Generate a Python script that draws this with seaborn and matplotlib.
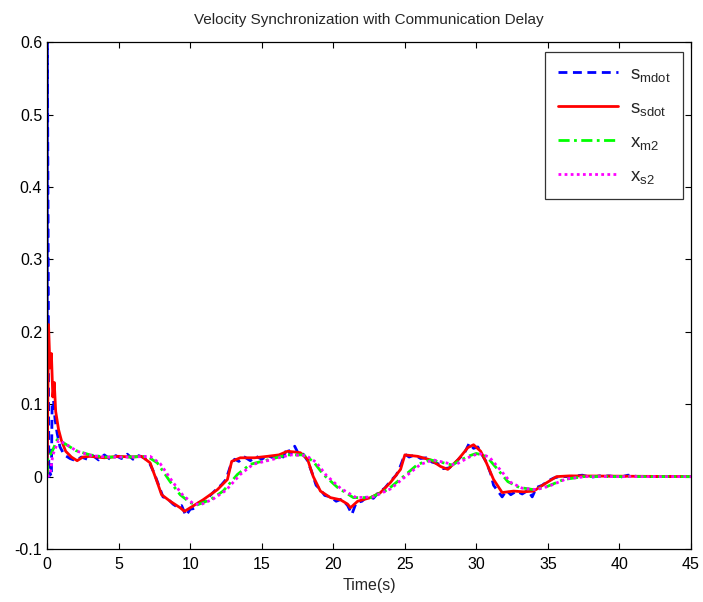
import matplotlib as mpl
mpl.use('Agg')
import matplotlib.pyplot as plt
import numpy as np
import pandas as pd
import seaborn as sns

# s_mdot (blue, noisy)
blue_t = [0.0, 0.02, 0.08, 0.12, 0.2, 0.3, 0.35, 0.45, 0.55, 0.7, 0.9, 1.2, 1.6, 2.0, 2.4,
          2.8, 3.2, 3.6, 4.0, 4.4, 4.8, 5.2, 5.6, 6.0, 6.4, 6.8, 7.2, 7.5, 7.8, 8.1,
          8.4, 8.8, 9.1, 9.4, 9.7, 10.0, 10.3, 10.6, 11.0, 11.4, 11.8, 12.2, 12.5, 12.8, 13.1,
          13.4, 13.8, 14.2, 14.6, 15.0, 15.4, 15.8, 16.2, 16.5, 16.8, 17.0, 17.3, 17.6, 17.9, 18.2,
          18.5, 18.8, 19.1, 19.4, 19.8, 20.2, 20.6, 21.0, 21.3, 21.6, 22.0, 22.4, 22.8, 23.2, 23.6,
          24.0, 24.4, 24.7, 25.0, 25.3, 25.7, 26.1, 26.5, 26.9, 27.3, 27.7, 28.1, 28.5, 28.9, 29.2,
          29.5, 29.8, 30.1, 30.4, 30.7, 31.0, 31.2, 31.5, 31.8, 32.1, 32.4, 32.8, 33.2, 33.6, 33.9,
          34.2, 34.6, 35.0, 35.4, 35.8, 36.5, 37.4, 38.0, 38.6, 39.3, 40.0, 40.6, 41.3, 42.0, 45.0]
blue_v = [0.0, 0.6, 0.3, 0.0, 0.005, 0.0, 0.10, 0.105, 0.08, 0.06, 0.041, 0.030, 0.025, 0.022, 0.027,
          0.024, 0.029, 0.023, 0.030, 0.024, 0.029, 0.025, 0.031, 0.024, 0.029, 0.026, 0.017, 0.004, -0.012, -0.028,
          -0.030, -0.038, -0.042, -0.040, -0.054, -0.045, -0.044, -0.036, -0.033, -0.026, -0.018, -0.011, -0.004, 0.014, 0.024,
          0.021, 0.027, 0.022, 0.028, 0.024, 0.029, 0.026, 0.031, 0.027, 0.040, 0.030, 0.042, 0.030, 0.031, 0.022,
          0.006, -0.012, -0.018, -0.026, -0.028, -0.034, -0.031, -0.040, -0.052, -0.036, -0.034, -0.027, -0.030, -0.021, -0.016,
          -0.006, 0.002, 0.015, 0.031, 0.027, 0.030, 0.025, 0.026, 0.020, 0.018, 0.011, 0.012, 0.019, 0.027, 0.034,
          0.046, 0.039, 0.041, 0.030, 0.020, 0.004, -0.012, -0.020, -0.028, -0.019, -0.025, -0.020, -0.024, -0.019, -0.028,
          -0.015, -0.012, -0.006, -0.002, 0.0, 0.0, 0.002, -0.001, 0.001, 0.001, -0.001, 0.002, 0.0, 0.0, 0.0]

# s_sdot (red)
red_t = [0, 0.1, 0.2, 0.3, 0.4, 0.5, 0.6, 0.8, 1.0, 1.3, 1.7, 2.1, 2.5, 3.0, 4.0, 5.0, 6.0, 6.6,
         7.2, 7.7, 8.0, 8.6, 9.3, 9.6, 10.0, 10.9, 11.9, 12.6, 12.9, 13.5, 14.5, 15.4, 16.2, 16.8,
         17.3, 17.7, 18.2, 18.6, 19.1, 19.8, 20.5, 21.0, 21.2, 21.7, 22.6, 23.3, 24.0, 24.7, 25.0,
         25.9, 26.8, 27.5, 28.0, 28.7, 29.4, 29.8, 30.3, 30.7, 31.2, 31.8, 32.6, 33.3, 34.0, 34.7,
         35.6, 36.5, 45]
red_v = [0.0, 0.21, 0.15, 0.17, 0.11, 0.13, 0.09, 0.065, 0.05, 0.035, 0.027, 0.022, 0.027, 0.028,
         0.026, 0.028, 0.027, 0.028, 0.019, -0.008, -0.025, -0.034, -0.043, -0.048, -0.043, -0.032,
         -0.018, -0.004, 0.021, 0.026, 0.026, 0.028, 0.030, 0.035, 0.034, 0.033, 0.024, 0.0, -0.020,
         -0.029, -0.032, -0.038, -0.043, -0.034, -0.029, -0.022, -0.008, 0.010, 0.030, 0.028, 0.023,
         0.014, 0.010, 0.023, 0.040, 0.044, 0.035, 0.019, -0.004, -0.022, -0.020, -0.021, -0.020,
         -0.011, 0.0, 0.001, 0.0]

# x_m2 (green)
green_t = [0, 0.05, 0.3, 0.7, 1.2, 2.0, 3.0, 4.0, 5.5, 7.0, 7.7, 8.6, 9.3, 10.0, 10.5, 11.4, 12.3,
           13.3, 14.2, 15.6, 16.8, 17.9, 18.6, 19.3, 20.3, 21.4, 22.6, 23.8, 24.9, 25.9, 26.8, 27.7,
           28.3, 29.4, 30.0, 30.7, 31.4, 32.2, 33.0, 34.0, 34.9, 36.1, 37.5, 45]
green_v = [0.0, 0.028, 0.032, 0.051, 0.046, 0.036, 0.030, 0.027, 0.027, 0.028, 0.019, -0.007, -0.025,
           -0.036, -0.039, -0.032, -0.020, 0.003, 0.017, 0.024, 0.030, 0.030, 0.021, 0.003, -0.015,
           -0.029, -0.029, -0.018, 0.000, 0.017, 0.023, 0.019, 0.016, 0.028, 0.032, 0.028, 0.012,
           -0.007, -0.015, -0.018, -0.014, -0.004, 0.0, 0.0]

# x_s2 (magenta)
mag_t = [0, 0.2, 0.4, 0.8, 1.3, 2.1, 3.1, 4.2, 5.7, 7.2, 7.9, 8.8, 9.5, 10.2, 10.7, 11.6, 12.5,
         13.5, 14.4, 15.8, 17.0, 18.1, 18.8, 19.5, 20.5, 21.6, 22.8, 24.0, 25.1, 26.1, 27.0, 27.9,
         28.5, 29.6, 30.2, 30.9, 31.6, 32.4, 33.2, 34.2, 35.1, 36.3, 37.7, 45]
mag_v = [0.0, 0.002, 0.03, 0.050, 0.045, 0.035, 0.029, 0.027, 0.027, 0.028, 0.018, -0.008, -0.026,
         -0.037, -0.039, -0.031, -0.019, 0.003, 0.017, 0.024, 0.030, 0.029, 0.020, 0.002, -0.016,
         -0.029, -0.028, -0.017, 0.001, 0.017, 0.023, 0.019, 0.016, 0.028, 0.032, 0.027, 0.011,
         -0.008, -0.016, -0.018, -0.013, -0.003, 0.0, 0.0]

series = [
    (blue_t, blue_v, '#0000ff', (0, (3.2, 2)), r'$\mathregular{s_{mdot}}$'),
    (red_t, red_v, '#ff0000', '-', r'$\mathregular{s_{sdot}}$'),
    (green_t, green_v, '#00ff00', (0, (4, 1.6, 1, 1.6)), r'$\mathregular{x_{m2}}$'),
    (mag_t, mag_v, '#ff00ff', (0, (1, 1.2)), r'$\mathregular{x_{s2}}$'),
]


def main():
    sns.set_theme(style='ticks')
    plt.rcParams['font.family'] = ['Liberation Sans', 'DejaVu Sans']
    plt.rcParams['mathtext.fontset'] = 'custom'
    plt.rcParams['mathtext.rm'] = 'Liberation Sans'
    plt.rcParams['mathtext.it'] = 'Liberation Sans'

    fig, ax = plt.subplots(figsize=(7.03, 6.02), dpi=100)
    fig.subplots_adjust(left=0.067, right=0.983, top=0.930, bottom=0.088)

    for t, v, color, ls, label in series:
        df = pd.DataFrame({'t': t, 'v': v})
        sns.lineplot(data=df, x='t', y='v', ax=ax, color=color, linestyle=ls,
                     linewidth=2.0, label=label, estimator=None, sort=False)

    ax.set_xlim(0, 45)
    ax.set_ylim(-0.1, 0.6)
    ax.set_xticks(np.arange(0, 46, 5))
    ax.set_yticks([-0.1, 0, 0.1, 0.2, 0.3, 0.4, 0.5, 0.6])
    ax.set_yticklabels(['-0.1', '0', '0.1', '0.2', '0.3', '0.4', '0.5', '0.6'])
    ax.tick_params(axis='x', pad=6)
    ax.tick_params(direction='in', top=True, right=True, length=4, width=0.8,
                   labelsize=11.5, colors='black')
    for sp in ax.spines.values():
        sp.set_visible(True)
        sp.set_color('black')
        sp.set_linewidth(0.9)

    ax.set_title('Velocity Synchronization with Communication Delay', fontsize=11, pad=13)
    ax.set_xlabel('Time(s)', fontsize=11.5, labelpad=4)
    ax.set_ylabel('')

    leg = ax.legend(loc='upper right', fontsize=13.5, frameon=True, fancybox=False,
                    edgecolor='black', handlelength=3.2, handletextpad=0.6,
                    labelspacing=0.85, borderpad=0.7, borderaxespad=0,
                    bbox_to_anchor=(0.988, 0.98))
    leg.get_frame().set_linewidth(0.9)

    fig.savefig('out.png', dpi=100)
    plt.close(fig)


if __name__ == '__main__':
    main()
